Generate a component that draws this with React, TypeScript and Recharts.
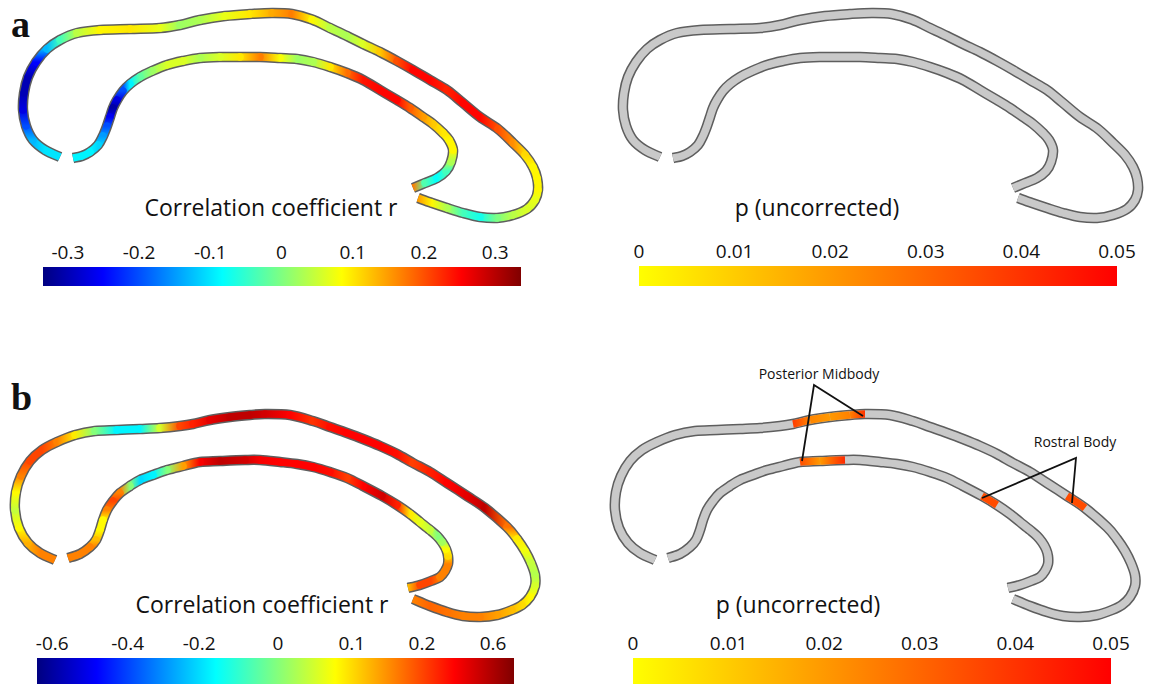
import React from "react";
import { LineChart, Line, XAxis, YAxis, AreaChart, Area } from "recharts";

type Pt = [number, number];

// centre line of the callosum outline, panel a frame (px), posterior end first
const A_OUTER: Pt[] = [
  [60, 157], [45, 150], [33, 140], [26, 126], [23, 110], [24, 93], [28, 77], [36, 62], [47, 49], [60, 40],
  [77, 33], [100, 30], [130, 29], [160, 28], [180, 25], [200, 20], [225, 16], [250, 14], [272, 13], [292, 14],
  [312, 19.5], [330, 28], [347, 36], [363, 44], [380, 52], [397, 61], [413, 70], [430, 80], [447, 90], [463, 103],
  [480, 117], [498, 129], [513, 143], [525, 155], [533, 167], [537, 178], [538, 190], [535, 200], [527, 209], [513, 215],
  [497, 218], [480, 217], [463, 213], [447, 208], [432, 203], [418, 198],
];
const A_INNER: Pt[] = [
  [413, 188], [425, 183], [437, 178], [446, 171], [451, 162], [453, 150], [449, 140], [443, 133], [433, 124], [423, 117],
  [410, 108], [397, 100], [380, 90], [363, 80], [347, 73], [330, 67], [313, 62], [297, 59], [280, 58], [260, 57],
  [240, 57], [220, 57], [200, 58], [183, 61], [167, 65], [152, 71], [140, 77], [130, 84], [123, 91], [117, 100],
  [113, 108], [110, 117], [107, 126], [103, 136], [98, 145], [90, 152], [82, 156], [73, 158],
];

// panel b frame
const B_OUTER: Pt[] = [
  [55, 200], [40, 193], [28, 183], [19, 168], [15, 150], [16, 132], [21, 116], [30, 101], [42, 90], [57, 82],
  [75, 75], [95, 71], [117, 70], [140, 69], [160, 68], [180, 66], [193, 64], [210, 60], [230, 57], [250, 55],
  [265, 54], [290, 55], [313, 61], [330, 67], [347, 73], [363, 79], [380, 86], [397, 94], [413, 103], [430, 112],
  [447, 123], [467, 136], [485, 148], [507, 167], [517, 179], [525, 191], [531, 203], [535, 215], [535, 226], [530, 237],
  [522, 245], [512, 250], [497, 255], [480, 257], [463, 256], [447, 252], [430, 246], [413, 239],
];
const B_INNER: Pt[] = [
  [408, 228], [420, 225], [431, 221], [440, 217], [445, 211], [448, 204], [448, 196], [446, 189], [442, 182], [437, 176],
  [430, 170], [420, 162], [410, 154], [397, 145], [382, 136], [363, 126], [347, 118], [330, 112], [313, 107], [297, 104],
  [280, 102], [260, 100], [245, 100], [220, 101], [200, 102], [183, 106], [167, 110], [153, 115], [140, 120], [130, 126],
  [120, 133], [113, 141], [107, 150], [103, 160], [100, 170], [96, 180], [90, 187], [80, 194], [68, 198],
];

// correlation coefficient r at each centre-line point
const R_A_OUTER = [
  -0.1, -0.1, -0.13, -0.2, -0.27, -0.3, -0.3, -0.25, -0.13, -0.04,
  0.04, 0.09, 0.1, 0.07, 0.02, 0.03, 0.07, 0.1, 0.14, 0.17,
  0.09, 0.04, 0.03, 0.06, 0.12, 0.2, 0.25, 0.25, 0.23, 0.25,
  0.25, 0.2, 0.16, 0.11, 0.09, 0.09, 0.09, 0.07, 0.06, 0.04,
  0.0, -0.07, -0.04, 0.03, 0.09, 0.15,
];
const R_A_INNER = [
  0.17, -0.03, -0.08, -0.04, 0.03, 0.09, 0.09, 0.1, 0.12, 0.15,
  0.19, 0.25, 0.25, 0.24, 0.18, 0.1, 0.03, 0.02, 0.08, 0.17,
  0.1, 0.06, 0.03, 0.06, 0.06, 0.02, -0.02, -0.09, -0.2, -0.27,
  -0.31, -0.26, -0.2, -0.15, -0.11, -0.09, -0.09, -0.09,
];
const R_B_OUTER = [
  0.16, 0.16, 0.13, 0.08, 0.04, 0.08, 0.16, 0.2, 0.2, 0.16,
  0.09, 0.0, -0.17, -0.17, 0.05, 0.2, 0.3, 0.45, 0.55, 0.55,
  0.5, 0.38, 0.25, 0.35, 0.38, 0.38, 0.38, 0.35, 0.22, 0.3,
  0.38, 0.45, 0.55, 0.17, 0.09, 0.07, 0.04, 0.03, 0.05, 0.08,
  0.1, 0.12, 0.14, 0.16, 0.16, 0.17, 0.18, 0.16,
];
const R_B_INNER = [
  0.12, 0.2, 0.2, 0.16, 0.16, 0.16, 0.1, 0.08, 0.02, 0.0,
  0.04, 0.06, 0.09, 0.3, 0.5, 0.38, 0.22, 0.35, 0.38, 0.38,
  0.38, 0.4, 0.5, 0.55, 0.4, 0.14, 0.0, -0.17, -0.2, 0.0,
  0.16, 0.2, 0.16, 0.08, 0.08, 0.12, 0.16, 0.16, 0.16,
];

// significant points in b (point index, p)
const P_B_OUTER: [number, number][] = [[16, 0.038], [17, 0.024], [18, 0.02], [19, 0.025], [20, 0.04], [31, 0.035], [32, 0.035]];
const P_B_INNER: [number, number][] = [[13, 0.035], [14, 0.035], [22, 0.042], [23, 0.02], [24, 0.035]];

// annotation leaders (b frame): label end is the middle point
const POSTERIOR_MIDBODY: Pt[] = [[202, 101], [214, 25], [263, 56]];
const ROSTRAL_BODY: Pt[] = [[382, 138], [476, 98], [472, 143]];

const R_LABELS_A = ["-0.3", "-0.2", "-0.1", "0", "0.1", "0.2", "0.3"];
const R_VALUES_A = [-0.3, -0.2, -0.1, 0, 0.1, 0.2, 0.3];
const R_POS_A = [0.052, 0.201, 0.35, 0.499, 0.648, 0.797, 0.946];
const R_LABELS_B = ["-0.6", "-0.4", "-0.2", "0", "0.1", "0.2", "0.6"];
const R_VALUES_B = [-0.6, -0.4, -0.2, 0, 0.1, 0.2, 0.6];
const R_POS_B = [0.032, 0.19, 0.34, 0.505, 0.66, 0.807, 0.956];
const P_LABELS = ["0", "0.01", "0.02", "0.03", "0.04", "0.05"];
const P_POS = [0, 0.2, 0.4, 0.6, 0.8, 1];
const P_MAX = 0.05;

const FONT = "'Open Sans', 'Noto Sans', sans-serif";
const EDGE = "#5e5e5e";
const TUBE = "#c9c9c9";

const clamp = (v: number) => Math.max(0, Math.min(1, v));
const rgb = (r: number, g: number, b: number) =>
  `rgb(${Math.round(clamp(r) * 255)},${Math.round(clamp(g) * 255)},${Math.round(clamp(b) * 255)})`;
const jet = (t: number) =>
  rgb(1.5 - Math.abs(4 * t - 3), 1.5 - Math.abs(4 * t - 2), 1.5 - Math.abs(4 * t - 1));
const hot = (t: number) => rgb(1, 1 - clamp(t), 0);

// place an r value on the colour bar using its own tick marks
function barPos(v: number, vals: number[], pos: number[]) {
  let i = 0;
  while (i < vals.length - 2 && v > vals[i + 1]) i++;
  const f = (v - vals[i]) / (vals[i + 1] - vals[i]);
  return clamp(pos[i] + f * (pos[i + 1] - pos[i]));
}

// Catmull-Rom through the read points; "mid" draws only the span between the 2nd and 3rd point
type Ctx = { moveTo(x: number, y: number): void; bezierCurveTo(a: number, b: number, c: number, d: number, e: number, f: number): void };
function catmull(pts: Pt[], ctx: Ctx, from: number, to: number) {
  const P = (i: number) => pts[Math.max(0, Math.min(pts.length - 1, i))];
  ctx.moveTo(P(from)[0], P(from)[1]);
  for (let i = from; i < to; i++) {
    const p0 = P(i - 1), p1 = P(i), p2 = P(i + 1), p3 = P(i + 2);
    ctx.bezierCurveTo(
      p1[0] + (p2[0] - p0[0]) / 6, p1[1] + (p2[1] - p0[1]) / 6,
      p2[0] - (p3[0] - p1[0]) / 6, p2[1] - (p3[1] - p1[1]) / 6,
      p2[0], p2[1]
    );
  }
}
const splineCurve = (mid: boolean) => (ctx: Ctx) => {
  let pts: Pt[] = [];
  return {
    areaStart() {},
    areaEnd() {},
    lineStart() { pts = []; },
    point(x: number, y: number) { pts.push([+x, +y]); },
    lineEnd() {
      if (pts.length < 2) return;
      if (mid) catmull(pts, ctx, 1, 2);
      else catmull(pts, ctx, 0, pts.length - 1);
    },
  };
};
const FULL_SPLINE = splineCurve(false);
const MID_SPLINE = splineCurve(true);

const rows = (pts: Pt[]) => pts.map(([x, y]) => ({ x, y }));
const around = (pts: Pt[], i: number) =>
  [i - 1, i, i + 1, i + 2].map((j) => pts[Math.max(0, Math.min(pts.length - 1, j))]);

type Curve = { pts: Pt[]; base?: string; cols: ([string, string] | null)[] };
type Panel = { id: string; left: number; top: number; w: number; h: number; curves: Curve[]; notes?: Pt[][] };

const rCurve = (pts: Pt[], r: number[], vals: number[], pos: number[]): Curve => ({
  pts,
  cols: pts.slice(0, -1).map((_, i) => [jet(barPos(r[i], vals, pos)), jet(barPos(r[i + 1], vals, pos))]),
});
const pCurve = (pts: Pt[], sig: [number, number][] = []): Curve => {
  const m = new Map(sig);
  return {
    pts,
    base: TUBE,
    cols: pts.slice(0, -1).map((_, i) =>
      m.has(i) && m.has(i + 1) ? [hot(m.get(i)! / P_MAX), hot(m.get(i + 1)! / P_MAX)] : null
    ),
  };
};

const PANELS: Panel[] = [
  { id: "aL", left: 0, top: 0, w: 560, h: 230, curves: [
    rCurve(A_OUTER, R_A_OUTER, R_VALUES_A, R_POS_A), rCurve(A_INNER, R_A_INNER, R_VALUES_A, R_POS_A)] },
  { id: "aR", left: 600, top: 0, w: 551, h: 230, curves: [pCurve(A_OUTER), pCurve(A_INNER)] },
  { id: "bL", left: 0, top: 360, w: 560, h: 270, curves: [
    rCurve(B_OUTER, R_B_OUTER, R_VALUES_B, R_POS_B), rCurve(B_INNER, R_B_INNER, R_VALUES_B, R_POS_B)] },
  { id: "bR", left: 600, top: 360, w: 551, h: 270, curves: [pCurve(B_OUTER, P_B_OUTER), pCurve(B_INNER, P_B_INNER)],
    notes: [POSTERIOR_MIDBODY, ROSTRAL_BODY] },
];

// gradient running along one segment (bounding-box units)
function segGradient(pts: Pt[], i: number) {
  const q = around(pts, i);
  const dx = pts[i + 1][0] - pts[i][0];
  const dy = pts[i + 1][1] - pts[i][1];
  if (Math.abs(dx) >= Math.abs(dy)) {
    const flat = q.every((p) => p[1] === q[0][1]);
    return flat ? null : { x1: dx >= 0 ? 0 : 1, x2: dx >= 0 ? 1 : 0, y1: 0, y2: 0 };
  }
  const flat = q.every((p) => p[0] === q[0][0]);
  return flat ? null : { x1: 0, x2: 0, y1: dy >= 0 ? 0 : 1, y2: dy >= 0 ? 1 : 0 };
}

function ShapePanel({ panel }: { panel: Panel }) {
  const { w, h, curves, notes = [], id } = panel;
  return (
    <LineChart width={w} height={h} margin={{ top: 0, right: 0, bottom: 0, left: 0 }}>
      <XAxis type="number" dataKey="x" domain={[0, w]} hide allowDataOverflow />
      <YAxis type="number" domain={[0, h]} reversed hide allowDataOverflow />
      {curves.map((c, k) => (
        <Line key={`edge${k}`} data={rows(c.pts)} dataKey="y" type={FULL_SPLINE as any} stroke={EDGE} strokeWidth={10.5}
          dot={false} activeDot={false} isAnimationActive={false} />
      ))}
      {curves.map((c, k) =>
        c.base ? (
          <Line key={`base${k}`} data={rows(c.pts)} dataKey="y" type={FULL_SPLINE as any} stroke={c.base} strokeWidth={7.5}
            dot={false} activeDot={false} isAnimationActive={false} />
        ) : null
      )}
      {curves.flatMap((c, k) =>
        c.cols.map((col, i) => {
          if (!col) return null;
          const butt = c.base || i === 0 || i === c.cols.length - 1;
          const g = segGradient(c.pts, i);
          return (
            <Line key={`s${k}-${i}`} data={rows(around(c.pts, i))} dataKey="y" type={MID_SPLINE as any}
              stroke={g ? `url(#${id}-${k}-${i})` : col[0]} strokeWidth={7.5}
              strokeLinecap={butt ? "butt" : "round"} dot={false} activeDot={false} isAnimationActive={false} />
          );
        })
      )}
      {notes.map((n, k) => (
        <Line key={`note${k}`} data={rows(n)} dataKey="y" stroke="#111" strokeWidth={1.8}
          dot={false} activeDot={false} isAnimationActive={false} />
      ))}
    </LineChart>
  );
}

const BAR_ROWS = [{ x: 0, v: 1 }, { x: 1, v: 1 }];

function ColorBar({ x, y, w, h, fill, ticks, labels }: {
  x: number; y: number; w: number; h: number; fill: string; ticks: number[]; labels: string[];
}) {
  const pad = 32;
  return (
    <div style={{ position: "absolute", left: x - pad, top: y - 30 }}>
      <AreaChart width={w + 2 * pad} height={30 + h} data={BAR_ROWS} margin={{ top: 0, right: pad, bottom: 0, left: pad }}>
        <XAxis type="number" dataKey="x" domain={[0, 1]} orientation="top" height={30} ticks={ticks} interval={0}
          tickFormatter={(_v: number, i: number) => labels[i]} axisLine={false} tickLine={false}
          tickSize={6} tickMargin={2} tick={{ fontSize: 19, fill: "#111", fontFamily: FONT }} />
        <YAxis type="number" domain={[0, 1]} hide />
        <Area dataKey="v" type="linear" stroke="none" fill={fill} fillOpacity={1} isAnimationActive={false} />
      </AreaChart>
    </div>
  );
}

export default function App() {
  const jetStops = [0, 0.125, 0.25, 0.375, 0.5, 0.625, 0.75, 0.875, 1];
  return (
    <div style={{ position: "absolute", left: 0, top: 0, width: 1151, height: 684, background: "#fff", overflow: "hidden", fontFamily: FONT }}>
      <svg width={0} height={0} style={{ position: "absolute" }}>
        <defs>
          <linearGradient id="jetGrad" x1="0" y1="0" x2="1" y2="0">
            {jetStops.map((t) => <stop key={t} offset={t} stopColor={jet(t)} />)}
          </linearGradient>
          <linearGradient id="hotGrad" x1="0" y1="0" x2="1" y2="0">
            <stop offset={0} stopColor={hot(0)} />
            <stop offset={1} stopColor={hot(1)} />
          </linearGradient>
          {PANELS.flatMap((p) =>
            p.curves.flatMap((c, k) =>
              c.cols.map((col, i) => {
                const g = col && segGradient(c.pts, i);
                if (!col || !g) return null;
                return (
                  <linearGradient key={`${p.id}-${k}-${i}`} id={`${p.id}-${k}-${i}`} x1={g.x1} y1={g.y1} x2={g.x2} y2={g.y2}>
                    <stop offset={0} stopColor={col[0]} />
                    <stop offset={1} stopColor={col[1]} />
                  </linearGradient>
                );
              })
            )
          )}
        </defs>
      </svg>

      {PANELS.map((p) => (
        <div key={p.id} style={{ position: "absolute", left: p.left, top: p.top }}>
          <ShapePanel panel={p} />
        </div>
      ))}

      <ColorBar x={43} y={267} w={478} h={19} fill="url(#jetGrad)" ticks={R_POS_A} labels={R_LABELS_A} />
      <ColorBar x={639} y={266} w={478} h={20} fill="url(#hotGrad)" ticks={P_POS} labels={P_LABELS} />
      <ColorBar x={37} y={658} w={477} h={26} fill="url(#jetGrad)" ticks={R_POS_B} labels={R_LABELS_B} />
      <ColorBar x={633} y={658} w={478} h={26} fill="url(#hotGrad)" ticks={P_POS} labels={P_LABELS} />

      <svg width={1151} height={684} style={{ position: "absolute", left: 0, top: 0, pointerEvents: "none" }}>
        <text x={11} y={37} fontFamily="'Liberation Serif', serif" fontWeight="bold" fontSize={38} fill="#111">a</text>
        <text x={11} y={410} fontFamily="'Liberation Serif', serif" fontWeight="bold" fontSize={38} fill="#111">b</text>
        <text x={271} y={216} textAnchor="middle" fontSize={23} fill="#111">Correlation coefficient r</text>
        <text x={817} y={216} textAnchor="middle" fontSize={23} fill="#111">p (uncorrected)</text>
        <text x={262} y={613} textAnchor="middle" fontSize={23} fill="#111">Correlation coefficient r</text>
        <text x={798} y={613} textAnchor="middle" fontSize={23} fill="#111">p (uncorrected)</text>
        <text x={819} y={379} textAnchor="middle" fontSize={14} fill="#111">Posterior Midbody</text>
        <text x={1075} y={447} textAnchor="middle" fontSize={14} fill="#111">Rostral Body</text>
      </svg>
    </div>
  );
}
